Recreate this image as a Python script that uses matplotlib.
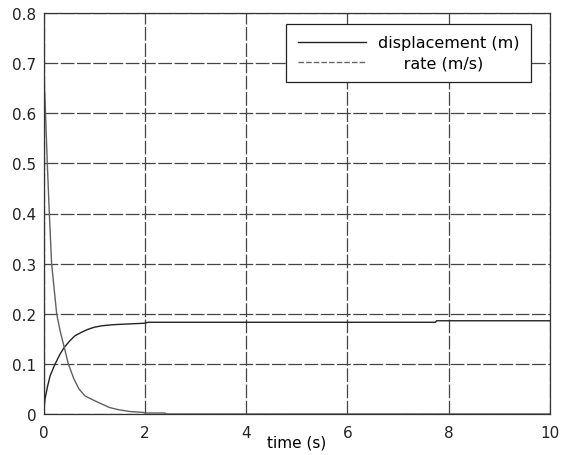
import matplotlib
matplotlib.use("Agg")
from matplotlib import pyplot as plt
from matplotlib.lines import Line2D

# displacement curve
t_disp = [0, 0.03, 0.08, 0.13, 0.23, 0.33, 0.41, 0.52, 0.62, 0.75, 0.88, 1.0,
          1.15, 1.35, 1.54, 1.75, 1.98, 2.07, 7.74, 7.76, 10]
disp = [0, 0.03, 0.055, 0.076, 0.1, 0.12, 0.133, 0.146, 0.156, 0.163, 0.169, 0.173,
        0.176, 0.178, 0.179, 0.180, 0.181, 0.183, 0.183, 0.186, 0.186]

# rate curve
t_rate = [0, 0.04, 0.075, 0.115, 0.16, 0.21, 0.26, 0.33, 0.41, 0.49, 0.6, 0.7,
          0.82, 1.0, 1.15, 1.3, 1.48, 1.7, 1.98, 2.0, 2.4, 2.42, 10]
rate = [0.7, 0.6, 0.5, 0.4, 0.3, 0.25, 0.2, 0.165, 0.133, 0.1, 0.07, 0.05,
        0.036, 0.027, 0.02, 0.013, 0.0086, 0.005, 0.003, 0.002, 0.002, 0, 0]

labels = ["displacement (m)", "     rate (m/s)"]

plt.rcParams['font.family'] = ['DejaVu Sans']

fig = plt.figure(figsize=(5.63, 4.56), dpi=100)
ax = fig.add_axes([43.5 / 563, 41 / 456, 506.5 / 563, 401 / 456])

ax.plot(t_disp, disp, color='#222222', lw=1.0)
ax.plot(t_rate, rate, color='#606060', lw=1.0)

ax.set_xlim(0, 10)
ax.set_ylim(0, 0.8)
ax.set_xticks([0, 2, 4, 6, 8, 10])
ax.set_yticks([0, 0.1, 0.2, 0.3, 0.4, 0.5, 0.6, 0.7, 0.8])
ax.set_yticklabels(["0", "0.1", "0.2", "0.3", "0.4", "0.5", "0.6", "0.7", "0.8"])
ax.tick_params(length=0, labelsize=11, colors='#222222')
ax.tick_params(axis='x', pad=8)
ax.tick_params(axis='y', pad=5)
ax.grid(True, color='#444444', lw=0.9, linestyle=(0, (11, 2)))
for s in ax.spines.values():
    s.set_color('#333333')
    s.set_linewidth(0.9)

ax.set_xlabel("time (s)", fontsize=11)
ax.xaxis.set_label_coords(0.5, -0.05)

handles = [Line2D([], [], color='#222222', lw=1.0),
           Line2D([], [], color='#666666', lw=1.0, linestyle=(0, (4, 1.5)))]
leg = ax.legend(handles, labels, loc='upper right', bbox_to_anchor=(0.9625, 0.9726),
                borderaxespad=0, fontsize=11.5, handlelength=4.3, handletextpad=0.75,
                labelspacing=0.35, borderpad=0.7, fancybox=False, framealpha=1)
leg.get_frame().set_edgecolor('#222222')
leg.get_frame().set_linewidth(0.9)

fig.savefig("out.png", dpi=100)
